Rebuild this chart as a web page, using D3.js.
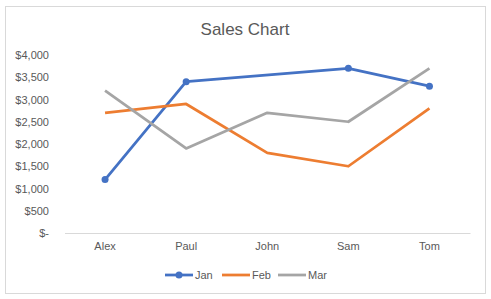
<!DOCTYPE html>
<html><head><meta charset="utf-8">
<script src="https://cdn.jsdelivr.net/npm/d3@7"></script>
<style>body{margin:0;background:#fff;}svg{display:block;}text{font-family:"Liberation Sans",Arial,sans-serif;fill:#595959;}</style>
</head><body><svg id="c" width="491" height="299"></svg>
<script>
const categories = ["Alex","Paul","John","Sam","Tom"];
const seriesNames = ["Jan","Feb","Mar"];
// Jan has no value for John; the line is drawn across the gap (no marker there)
const jan = [1200,3400,null,3700,3300];
const feb = [2700,2900,1800,1500,2800];
const mar = [3200,1900,2700,2500,3700];
const yTicks = [0,500,1000,1500,2000,2500,3000,3500,4000];
const colors = ["#4472C4","#ED7D31","#A5A5A5"];

const series = [jan, feb, mar];
const svg = d3.select("#c");
svg.append("rect").attr("x",5.5).attr("y",6.5).attr("width",480).attr("height",287)
  .attr("fill","#fff").attr("stroke","#d9d9d9");

svg.append("text").attr("x",245).attr("y",35).attr("text-anchor","middle")
  .attr("font-size",17).text("Sales Chart");

const x = d3.scaleBand().domain(categories).range([64.5,470]).padding(0);
const y = d3.scaleLinear().domain([0,4000]).range([233,55]);
const cx = i => x(categories[i]) + x.bandwidth()/2;

const fmt = v => v===0 ? "$-" : "$" + d3.format(",")(v);
const yAxis = svg.append("g").attr("transform","translate(49,0)")
  .call(d3.axisLeft(y).tickValues(yTicks).tickFormat(fmt).tickSize(0).tickPadding(0));
yAxis.select(".domain").remove();
yAxis.selectAll("text").attr("font-size",11).attr("fill","#595959").attr("font-family","Liberation Sans, Arial, sans-serif");

const xAxis = svg.append("g").attr("transform","translate(0,233)")
  .call(d3.axisBottom(x).tickSize(0).tickPadding(9));
xAxis.select(".domain").attr("stroke","#d9d9d9");
xAxis.selectAll("text").attr("font-size",11).attr("fill","#595959").attr("font-family","Liberation Sans, Arial, sans-serif");

const line = d3.line().x(d=>cx(d.i)).y(d=>y(d.v));
series.forEach((s,k)=>{
  const pts = s.map((v,i)=>({v,i})).filter(d=>d.v!=null);
  svg.append("path").datum(pts).attr("d",line).attr("fill","none")
    .attr("stroke",colors[k]).attr("stroke-width",2.75).attr("stroke-linejoin","round");
});
svg.selectAll(".jm").data(jan.map((v,i)=>({v,i})).filter(d=>d.v!=null)).enter().append("circle")
  .attr("cx",d=>cx(d.i)).attr("cy",d=>y(d.v)).attr("r",3.5)
  .attr("fill",colors[0]);

// legend
const lx = [165,222,278];
seriesNames.forEach((n,k)=>{
  const g = svg.append("g").attr("transform",`translate(${lx[k]},275)`);
  g.append("line").attr("x1",0).attr("x2",28).attr("y1",0).attr("y2",0)
    .attr("stroke",colors[k]).attr("stroke-width",2.75);
  if(k===0) g.append("circle").attr("cx",14).attr("cy",0).attr("r",3.5).attr("fill",colors[k]);
  g.append("text").attr("x",30).attr("y",4).attr("font-size",11).text(n);
});
</script></body></html>
